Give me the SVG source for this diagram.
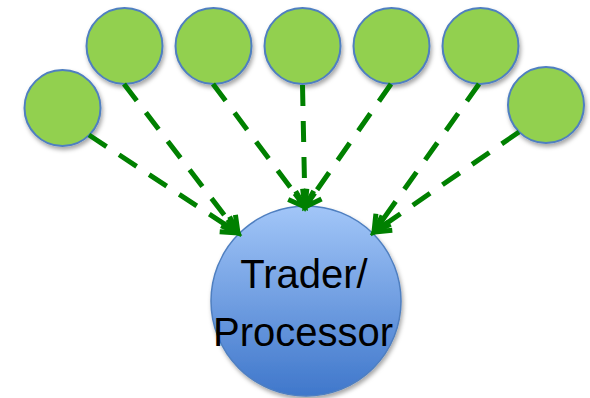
<svg xmlns="http://www.w3.org/2000/svg" width="590" height="398" viewBox="0 0 590 398">
  <defs>
    <linearGradient id="hubFill" x1="0" y1="0" x2="0" y2="1">
      <stop offset="0" stop-color="#a2c6f8"/>
      <stop offset="1" stop-color="#3f77cb"/>
    </linearGradient>
    <filter id="shadow" x="-20%" y="-20%" width="150%" height="150%">
      <feDropShadow dx="1.5" dy="3" stdDeviation="2" flood-color="#000" flood-opacity="0.35"/>
    </filter>
    <marker id="openArrow" markerUnits="userSpaceOnUse" viewBox="-22 -14 26 28" refX="0" refY="0" markerWidth="26" markerHeight="28" orient="auto" overflow="visible">
      <path d="M-16,-9 L0,0 L-16,9 M-17,0 L0,0" fill="none" stroke="#008000" stroke-width="5" stroke-linejoin="miter"/>
    </marker>
    <style>
      .source { fill: #92d050; stroke: #4f7fc0; stroke-width: 2; filter: url(#shadow); }
      .hub { fill: url(#hubFill); stroke: #4f7fc0; stroke-width: 1.5; filter: url(#shadow); }
      .flow { fill: none; stroke: #008000; stroke-width: 5; stroke-dasharray: 21 15; marker-end: url(#openArrow); }
      .label { font-family: "Liberation Sans", Arial, sans-serif; font-size: 40px; fill: #000; text-anchor: middle; }
    </style>
  </defs>

  <!-- source nodes -->
  <g id="node-s1"><circle class="source" cx="62.5" cy="108" r="38"/></g>
  <g id="node-s2"><circle class="source" cx="124.5" cy="46" r="38"/></g>
  <g id="node-s3"><circle class="source" cx="213.5" cy="46" r="38"/></g>
  <g id="node-s4"><circle class="source" cx="302.5" cy="46" r="38"/></g>
  <g id="node-s5"><circle class="source" cx="391.5" cy="46" r="38"/></g>
  <g id="node-s6"><circle class="source" cx="480.5" cy="46" r="38"/></g>
  <g id="node-s7"><circle class="source" cx="546" cy="105" r="38"/></g>

  <!-- hub node -->
  <g id="node-hub">
    <circle class="hub" cx="306" cy="301" r="95"/>
    <text class="label" x="304" y="288">Trader/</text>
    <text class="label" x="303" y="346">Processor</text>
  </g>

  <!-- connectors -->
  <g id="connectors">
    <line class="flow" x1="89" y1="135" x2="238" y2="233"/>
    <line class="flow" x1="124" y1="84" x2="238" y2="233"/>
    <line class="flow" x1="213" y1="84" x2="305" y2="207"/>
    <line class="flow" x1="302.5" y1="85" x2="305" y2="207"/>
    <line class="flow" x1="391" y1="84" x2="305" y2="207"/>
    <line class="flow" x1="479" y1="84" x2="374" y2="232"/>
    <line class="flow" x1="519" y1="132" x2="374" y2="232"/>
  </g>
</svg>
